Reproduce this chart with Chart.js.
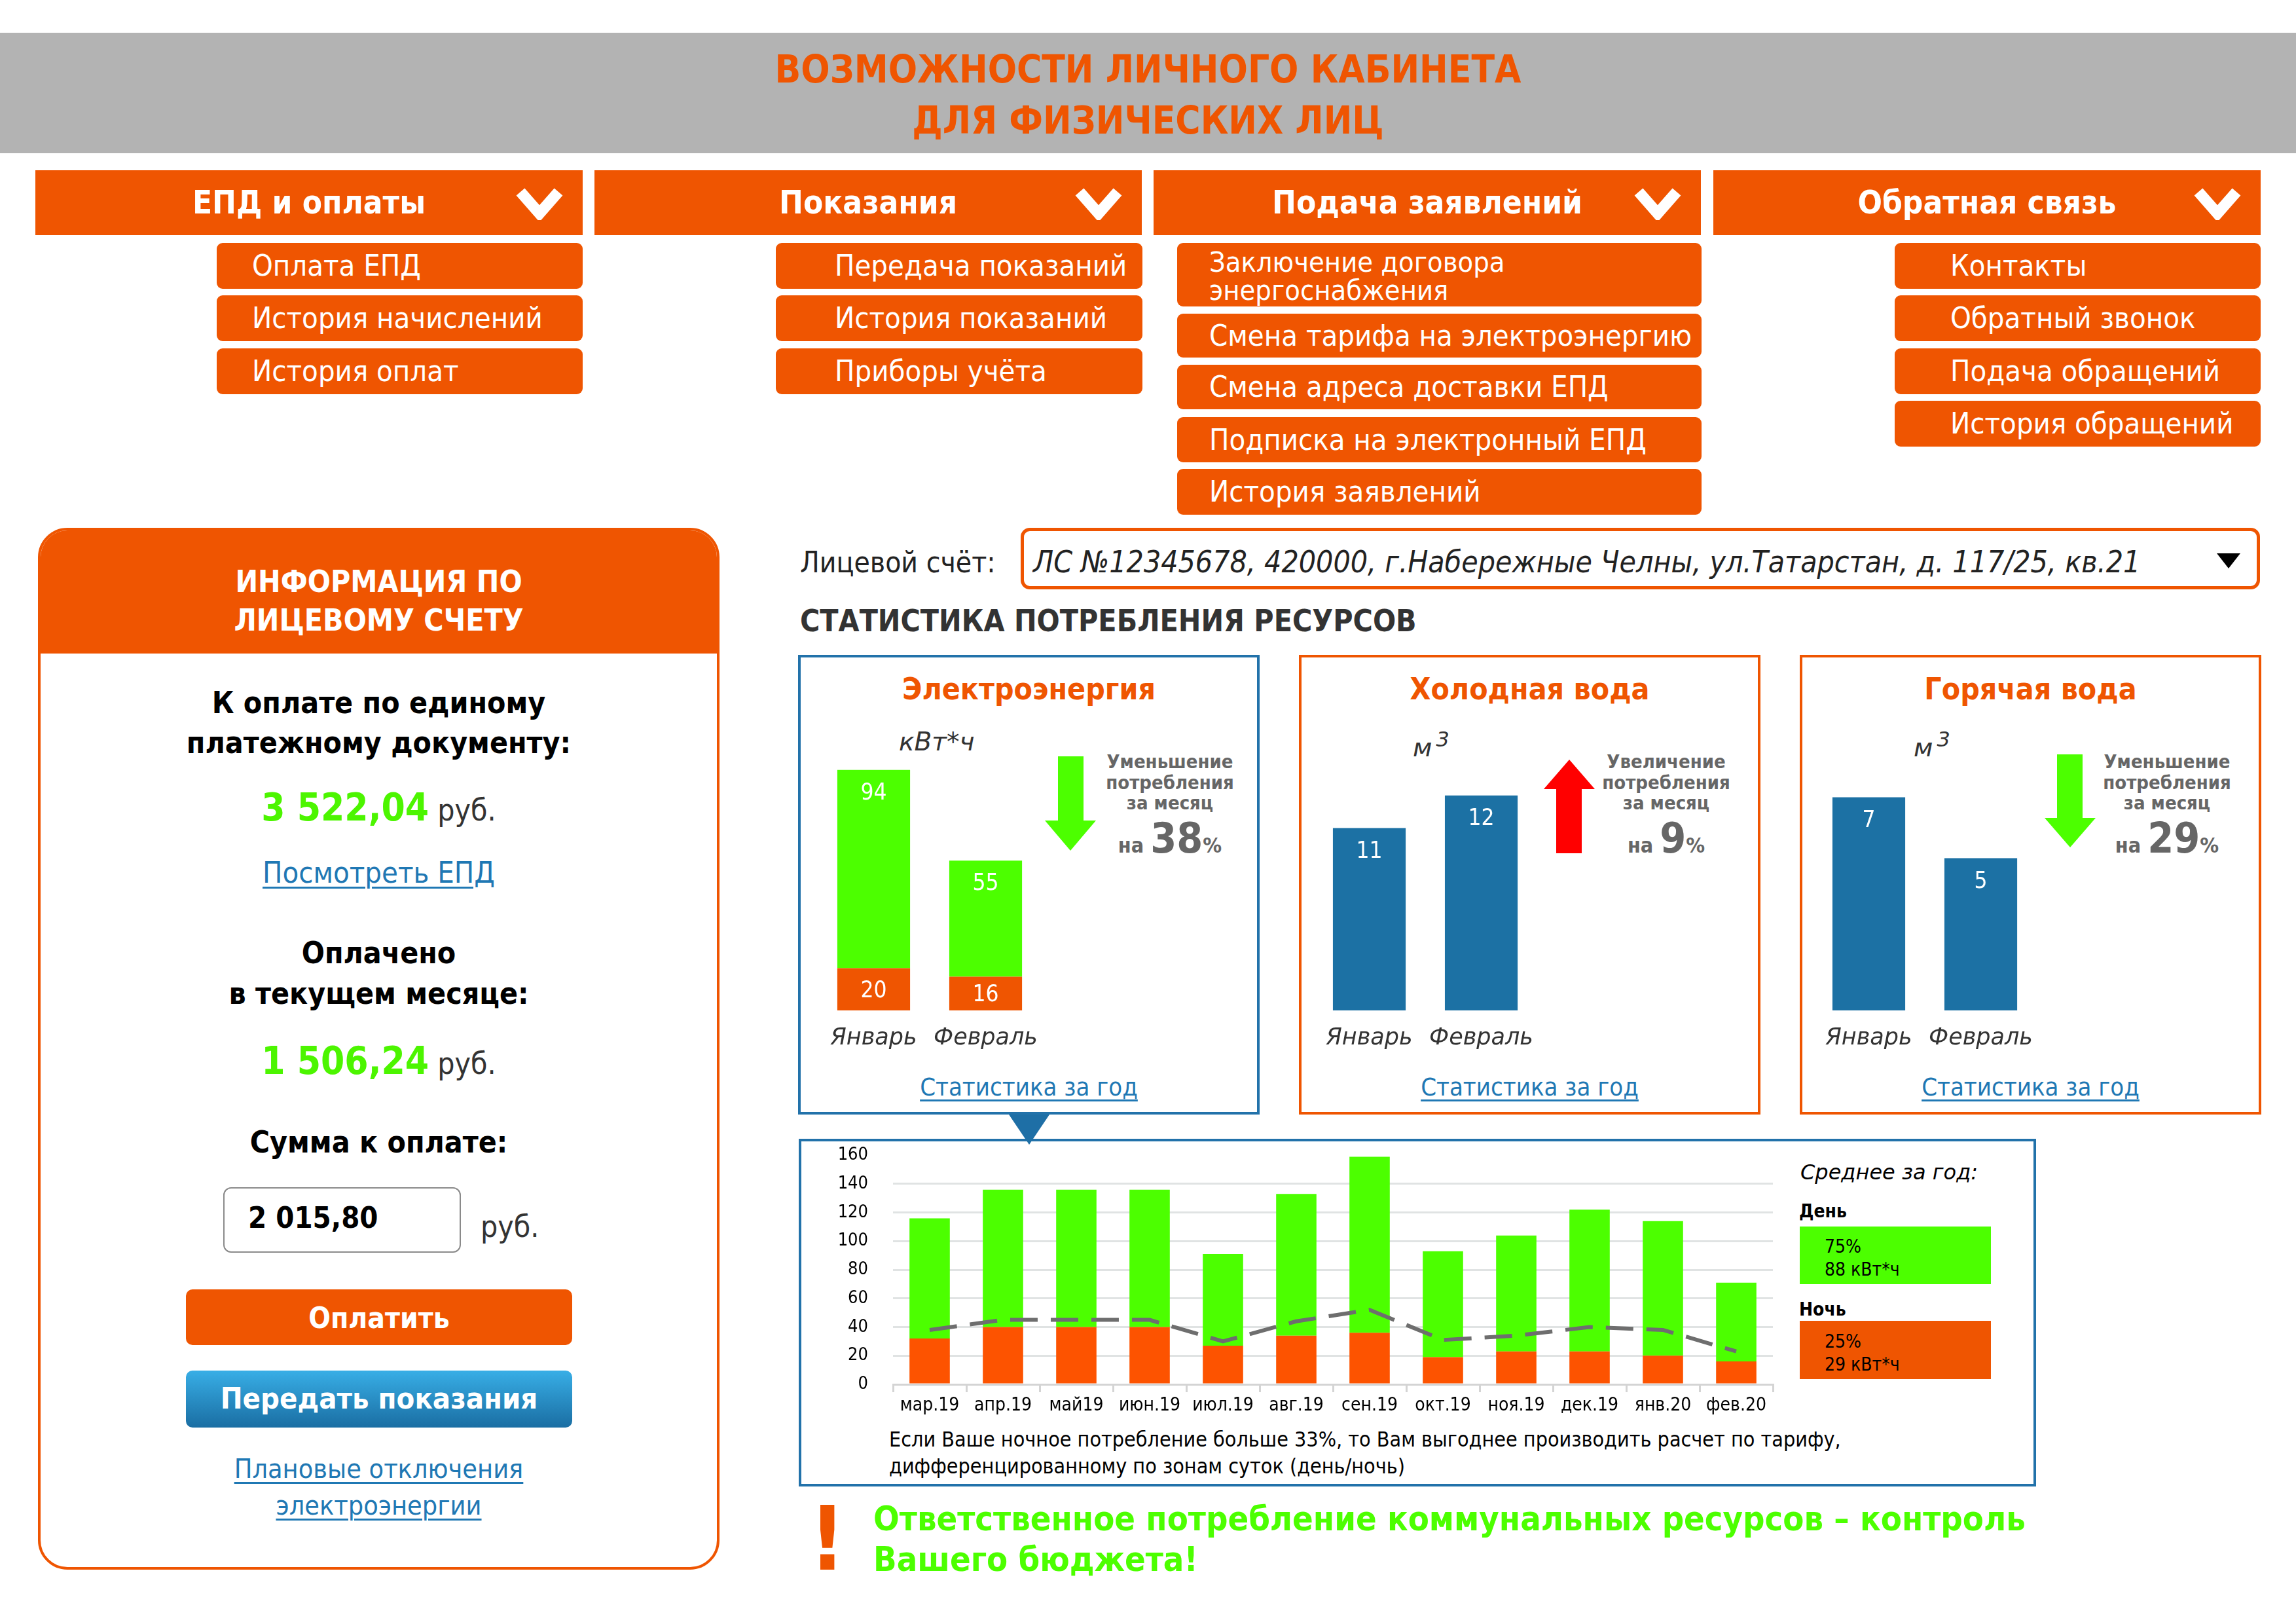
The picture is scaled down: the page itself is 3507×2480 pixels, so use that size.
<!DOCTYPE html>
<html lang="ru">
<head>
<meta charset="utf-8">
<title>Возможности личного кабинета для физических лиц</title>
<script src="https://cdn.jsdelivr.net/npm/chart.js@4.4.1/dist/chart.umd.min.js"></script>
<style>
html, body { margin: 0; padding: 0; }
body {
    width: 3507px; height: 2480px; position: relative; overflow: hidden; background: #fff;
    font-family: "DejaVu Sans Condensed", "DejaVu Sans", sans-serif; font-stretch: condensed; color: #000;
}
.t { position: absolute; white-space: nowrap; line-height: 1; }
.ctr { text-align: center; }
.b { font-weight: bold; }
.org { color: #ef5501; }
.link { color: #1f78b4; text-decoration: underline; text-decoration-thickness: 3px; text-underline-offset: 6px; }
.box { position: absolute; box-sizing: border-box; }
.hdr { position: absolute; top: 260px; height: 99px; width: 836px; background: #ef5501; color: #fff;
       font-weight: bold; font-size: 49px; line-height: 99px; text-align: center; }
.hdr svg { position: absolute; right: 29px; top: 26px; }
.sub { position: absolute; background: #ef5501; color: #fff; border-radius: 9px; font-size: 45px;
       white-space: nowrap; box-sizing: border-box; }
.card { position: absolute; top: 1000px; width: 705px; height: 702px; border: 4px solid #ef5501; box-sizing: border-box; }
.note { color: #666; font-weight: bold; font-size: 29px; line-height: 31.5px; text-align: center; }
canvas { position: absolute; }
</style>
</head>
<body>

<!-- header -->
<div class="box" style="left:0;top:50px;width:3507px;height:184px;background:#b3b3b3;"></div>
<div class="t ctr b org" style="left:0;width:3507px;top:77px;font-size:58px;">ВОЗМОЖНОСТИ ЛИЧНОГО КАБИНЕТА</div>
<div class="t ctr b org" style="left:0;width:3507px;top:155px;font-size:58px;">ДЛЯ ФИЗИЧЕСКИХ ЛИЦ</div>

<!-- menu -->
<div class="hdr" style="left:54px;">ЕПД и оплаты<svg width="74" height="50"><polyline points="8,7 37,40 66,7" fill="none" stroke="#fff" stroke-width="17"/></svg></div>
<div class="hdr" style="left:908px;">Показания<svg width="74" height="50"><polyline points="8,7 37,40 66,7" fill="none" stroke="#fff" stroke-width="17"/></svg></div>
<div class="hdr" style="left:1762px;">Подача заявлений<svg width="74" height="50"><polyline points="8,7 37,40 66,7" fill="none" stroke="#fff" stroke-width="17"/></svg></div>
<div class="hdr" style="left:2617px;">Обратная связь<svg width="74" height="50"><polyline points="8,7 37,40 66,7" fill="none" stroke="#fff" stroke-width="17"/></svg></div>

<div class="sub" style="left:331px;top:371px;width:559px;height:70px;line-height:70px;padding-left:54px;">Оплата ЕПД</div>
<div class="sub" style="left:331px;top:451px;width:559px;height:70px;line-height:70px;padding-left:54px;">История начислений</div>
<div class="sub" style="left:331px;top:532px;width:559px;height:70px;line-height:70px;padding-left:54px;">История оплат</div>

<div class="sub" style="left:1185px;top:371px;width:560px;height:70px;line-height:70px;padding-left:90px;">Передача показаний</div>
<div class="sub" style="left:1185px;top:451px;width:560px;height:70px;line-height:70px;padding-left:90px;">История показаний</div>
<div class="sub" style="left:1185px;top:532px;width:560px;height:70px;line-height:70px;padding-left:90px;">Приборы учёта</div>

<div class="sub" style="left:1798px;top:371px;width:801px;height:97px;"></div>
<div class="t" style="left:1847px;top:382px;font-size:43px;line-height:36px;color:#fff;">Заключение договора</div>
<div class="t" style="left:1847px;top:425px;font-size:43px;line-height:36px;color:#fff;">энергоснабжения</div>
<div class="sub" style="left:1798px;top:479px;width:801px;height:67px;line-height:67px;padding-left:49px;">Смена тарифа на электроэнергию</div>
<div class="sub" style="left:1798px;top:557px;width:801px;height:68px;line-height:68px;padding-left:49px;">Смена адреса доставки ЕПД</div>
<div class="sub" style="left:1798px;top:637px;width:801px;height:69px;line-height:69px;padding-left:49px;">Подписка на электронный ЕПД</div>
<div class="sub" style="left:1798px;top:716px;width:801px;height:70px;line-height:70px;padding-left:49px;">История заявлений</div>

<div class="sub" style="left:2894px;top:371px;width:559px;height:70px;line-height:70px;padding-left:85px;">Контакты</div>
<div class="sub" style="left:2894px;top:451px;width:559px;height:70px;line-height:70px;padding-left:85px;">Обратный звонок</div>
<div class="sub" style="left:2894px;top:532px;width:559px;height:70px;line-height:70px;padding-left:85px;">Подача обращений</div>
<div class="sub" style="left:2894px;top:612px;width:559px;height:70px;line-height:70px;padding-left:85px;">История обращений</div>

<!-- left panel -->
<div class="box" style="left:58px;top:806px;width:1041px;height:1591px;border:4px solid #ef5501;border-radius:45px;overflow:hidden;">
  <div class="box" style="left:0;top:0;width:1033px;height:188px;background:#ef5501;"></div>
</div>
<div class="t ctr b" style="left:58px;width:1041px;top:865px;font-size:46px;color:#fff;">ИНФОРМАЦИЯ ПО</div>
<div class="t ctr b" style="left:58px;width:1041px;top:924px;font-size:46px;color:#fff;">ЛИЦЕВОМУ СЧЕТУ</div>
<div class="t ctr b" style="left:58px;width:1041px;top:1050px;font-size:46px;">К оплате по единому</div>
<div class="t ctr b" style="left:58px;width:1041px;top:1111px;font-size:46px;">платежному документу:</div>
<div class="t ctr" style="left:58px;width:1041px;top:1204px;font-size:58px;"><span class="b" style="color:#4cf500;">3 522,04</span><span style="font-size:46px;color:#333;"> руб.</span></div>
<div class="t ctr" style="left:58px;width:1041px;top:1310px;font-size:45px;"><span class="link">Посмотреть ЕПД</span></div>
<div class="t ctr b" style="left:58px;width:1041px;top:1432px;font-size:46px;">Оплачено</div>
<div class="t ctr b" style="left:58px;width:1041px;top:1494px;font-size:46px;">в текущем месяце:</div>
<div class="t ctr" style="left:58px;width:1041px;top:1591px;font-size:58px;"><span class="b" style="color:#4cf500;">1 506,24</span><span style="font-size:46px;color:#333;"> руб.</span></div>
<div class="t ctr b" style="left:58px;width:1041px;top:1721px;font-size:46px;">Сумма к оплате:</div>
<div class="box" style="left:341px;top:1813px;width:363px;height:100px;border:2px solid #8a8a8a;border-radius:12px;"></div>
<div class="t b" style="left:379px;top:1837px;font-size:45px;">2 015,80</div>
<div class="t" style="left:734px;top:1850px;font-size:46px;color:#333;">руб.</div>
<div class="box ctr b" style="left:284px;top:1969px;width:590px;height:85px;border-radius:10px;background:#ef5501;color:#fff;font-size:44px;line-height:88px;">Оплатить</div>
<div class="box ctr b" style="left:284px;top:2093px;width:590px;height:87px;border-radius:10px;background:linear-gradient(#38aee6,#1a6ea3);color:#fff;font-size:45px;line-height:86px;">Передать показания</div>
<div class="t ctr" style="left:58px;width:1041px;top:2223px;font-size:41px;"><span class="link">Плановые отключения</span></div>
<div class="t ctr" style="left:58px;width:1041px;top:2279px;font-size:41px;"><span class="link">электроэнергии</span></div>

<!-- account -->
<div class="t" style="left:1222px;top:837px;font-size:44px;color:#222;">Лицевой счёт:</div>
<div class="box" style="left:1559px;top:806px;width:1893px;height:94px;border:5px solid #ef5501;border-radius:14px;"></div>
<div class="t" style="left:1578px;top:835px;font-size:46px;font-style:italic;color:#222;">ЛС №12345678, 420000, г.Набережные Челны, ул.Татарстан, д. 117/25, кв.21</div>
<div class="box" style="left:3386px;top:845px;width:0;height:0;border-left:18px solid transparent;border-right:18px solid transparent;border-top:23px solid #000;"></div>
<div class="t b" style="left:1222px;top:925px;font-size:46px;color:#333;">СТАТИСТИКА ПОТРЕБЛЕНИЯ РЕСУРСОВ</div>

<!-- cards -->
<div class="card" style="left:1219px;border-color:#2272aa;"></div>
<div class="card" style="left:1984px;"></div>
<div class="card" style="left:2749px;"></div>

<div class="t ctr b org" style="left:1219px;width:705px;top:1029px;font-size:46px;">Электроэнергия</div>
<div class="t ctr b org" style="left:1984px;width:705px;top:1029px;font-size:46px;">Холодная вода</div>
<div class="t ctr b org" style="left:2749px;width:705px;top:1029px;font-size:46px;">Горячая вода</div>

<div class="t" style="left:1373px;top:1113px;font-size:39px;font-style:italic;color:#333;font-family:'DejaVu Sans';font-stretch:normal;">кВт*ч</div>
<div class="t" style="left:2158px;top:1113px;font-size:39px;font-style:italic;color:#333;font-family:'DejaVu Sans';font-stretch:normal;">м<span style="font-size:32px;vertical-align:15px;margin-left:6px;">3</span></div>
<div class="t" style="left:2923px;top:1113px;font-size:39px;font-style:italic;color:#333;font-family:'DejaVu Sans';font-stretch:normal;">м<span style="font-size:32px;vertical-align:15px;margin-left:6px;">3</span></div>

<svg class="box" style="left:1596px;top:1155px;" width="78" height="144"><polygon points="20,0 59,0 59,98 78,98 39,144 0,98 20,98" fill="#4cff00"/></svg>
<svg class="box" style="left:2358px;top:1160px;" width="78" height="143"><polygon points="39,0 78,45 58,45 58,143 19,143 19,45 0,45" fill="#ff0000"/></svg>
<svg class="box" style="left:3123px;top:1152px;" width="78" height="142"><polygon points="19,0 58,0 58,97 78,97 39,142 0,97 19,97" fill="#4cff00"/></svg>

<div class="t note" style="left:1637px;width:300px;top:1148px;">Уменьшение<br>потребления<br>за месяц</div>
<div class="t note" style="left:2395px;width:300px;top:1148px;">Увеличение<br>потребления<br>за месяц</div>
<div class="t note" style="left:3160px;width:300px;top:1148px;">Уменьшение<br>потребления<br>за месяц</div>
<div class="t ctr b" style="left:1637px;width:300px;top:1248px;font-size:64px;color:#666;"><span style="font-size:32px;">на </span>38<span style="font-size:32px;">%</span></div>
<div class="t ctr b" style="left:2395px;width:300px;top:1248px;font-size:64px;color:#666;"><span style="font-size:32px;">на </span>9<span style="font-size:32px;">%</span></div>
<div class="t ctr b" style="left:3160px;width:300px;top:1248px;font-size:64px;color:#666;"><span style="font-size:32px;">на </span>29<span style="font-size:32px;">%</span></div>

<canvas id="elecChart" width="358" height="456" style="left:1249px;top:1150px;"></canvas>
<canvas id="coldChart" width="358" height="456" style="left:2006px;top:1150px;"></canvas>
<canvas id="hotChart" width="358" height="456" style="left:2769px;top:1150px;"></canvas>

<div class="t ctr" style="left:1219px;width:705px;top:1641px;font-size:38px;"><span class="link">Статистика за год</span></div>
<div class="t ctr" style="left:1984px;width:705px;top:1641px;font-size:38px;"><span class="link">Статистика за год</span></div>
<div class="t ctr" style="left:2749px;width:705px;top:1641px;font-size:38px;"><span class="link">Статистика за год</span></div>

<!-- year chart -->
<div class="box" style="left:1220px;top:1739px;width:1890px;height:531px;border:4px solid #2272aa;"></div>
<div class="box" style="left:1541px;top:1702px;width:0;height:0;border-left:31px solid transparent;border-right:31px solid transparent;border-top:46px solid #1e6fa6;"></div>
<canvas id="yearChart" width="1470" height="427" style="left:1250px;top:1744px;"></canvas>

<div class="t" style="left:2750px;top:1774px;font-size:32px;font-style:italic;font-family:'DejaVu Sans';font-stretch:normal;">Среднее за год:</div>
<div class="t b" style="left:2748px;top:1836px;font-size:28px;">День</div>
<div class="box" style="left:2749px;top:1873px;width:292px;height:88px;background:#4cff00;"></div>
<div class="t" style="left:2787px;top:1886px;font-size:28px;line-height:35px;">75%<br>88 кВт*ч</div>
<div class="t b" style="left:2748px;top:1986px;font-size:28px;">Ночь</div>
<div class="box" style="left:2749px;top:2017px;width:292px;height:89px;background:#ef5501;"></div>
<div class="t" style="left:2787px;top:2031px;font-size:28px;line-height:35px;">25%<br>29 кВт*ч</div>

<div class="t" style="left:1358px;top:2178px;font-size:32px;line-height:41px;">Если Ваше ночное потребление больше 33%, то Вам выгоднее производить расчет по тарифу,<br>дифференцированному по зонам суток (день/ночь)</div>

<!-- bottom message -->
<div class="t b org" style="left:1236px;top:2283px;font-size:135px;">!</div>
<div class="t b" style="left:1334px;top:2288px;font-size:52px;line-height:62px;color:#4cff00;">Ответственное потребление коммунальных ресурсов – контроль<br>Вашего бюджета!</div>

<script>
// годовая статистика электроэнергии, кВт*ч
const months = ["мар.19", "апр.19", "май19", "июн.19", "июл.19", "авг.19", "сен.19", "окт.19", "ноя.19", "дек.19", "янв.20", "фев.20"];
const nightKwh = [32, 40, 40, 40, 27, 34, 36, 19, 23, 23, 20, 16];
const dayKwh = [84, 96, 96, 96, 64, 99, 123, 74, 81, 99, 94, 55];
const nightLimit = [38, 45, 45, 45, 30, 44, 52, 31, 34, 40, 38, 23];
const yearTicks = [0, 20, 40, 60, 80, 100, 120, 140, 160];

// последние два месяца
const twoMonths = ["Январь", "Февраль"];
const elecNight = [20, 16];
const elecDay = [94, 55];
const coldWater = [11, 12];
const hotWater = [7, 5];

const GREEN = "#4cff00";
const ORANGE = "#ef5501";
const BLUE = "#1c71a4";
const FAMILY = '"DejaVu Sans Condensed", "DejaVu Sans", sans-serif';

// подписи значений внутри столбиков
const barText = {
    id: "barText",
    afterDatasetsDraw(chart, args, opts) {
        const ctx = chart.ctx;
        ctx.save();
        ctx.fillStyle = "#fff";
        ctx.font = "35px " + FAMILY;
        ctx.textAlign = "center";
        ctx.textBaseline = "middle";
        chart.data.datasets.forEach((ds, i) => {
            chart.getDatasetMeta(i).data.forEach((bar, j) => {
                const y = ds.labelAt === "center" ? (bar.y + bar.base) / 2 + 3 : bar.y + opts.offset;
                ctx.fillText(String(ds.data[j]), bar.x, y);
            });
        });
        ctx.restore();
    }
};

function smallChart(id, datasets, yMin, yMax) {
    return new Chart(document.getElementById(id), {
        type: "bar",
        data: { labels: twoMonths, datasets: datasets },
        options: {
            responsive: false,
            animation: false,
            devicePixelRatio: 1,
            barPercentage: 0.65,
            categoryPercentage: 1,
            layout: { padding: 0 },
            plugins: { legend: { display: false }, tooltip: { enabled: false }, barText: { offset: 36 } },
            scales: {
                x: {
                    stacked: true,
                    grid: { display: false, drawTicks: false },
                    border: { display: false },
                    ticks: { padding: 22, color: "#333", font: { family: '"DejaVu Sans", sans-serif', style: "italic", size: 35 } },
                    afterFit: s => { s.height = 63; }
                },
                y: { stacked: true, display: false, min: yMin, max: yMax }
            }
        },
        plugins: [barText]
    });
}

smallChart("elecChart", [
    { data: elecNight, backgroundColor: ORANGE, labelAt: "center" },
    { data: elecDay, backgroundColor: GREEN }
], 0, 122);
smallChart("coldChart", [{ data: coldWater, backgroundColor: BLUE }], 5.4, 13.3);
smallChart("hotChart", [{ data: hotWater, backgroundColor: BLUE }], 0, 8.45);

new Chart(document.getElementById("yearChart"), {
    type: "bar",
    data: {
        labels: months,
        datasets: [
            { type: "line", data: nightLimit, borderColor: "#6e6e6e", borderWidth: 6, borderDash: [42, 20],
              pointRadius: 0, tension: 0, fill: false, order: 0 },
            { type: "bar", data: nightKwh, backgroundColor: "#fd5300", stack: "kwh", order: 1 },
            { type: "bar", data: dayKwh, backgroundColor: GREEN, stack: "kwh", order: 1 }
        ]
    },
    options: {
        responsive: false,
        animation: false,
        devicePixelRatio: 1,
        barPercentage: 0.55,
        categoryPercentage: 1,
        layout: { padding: { top: 20, right: 12, left: 0, bottom: 0 } },
        plugins: { legend: { display: false }, tooltip: { enabled: false } },
        scales: {
            x: {
                stacked: true,
                offset: true,
                grid: { offset: true, drawOnChartArea: false, drawTicks: true, tickLength: 12, color: "#d4d4d4", lineWidth: 3 },
                border: { display: true, color: "#d4d4d4", width: 3 },
                ticks: { padding: 4, color: "#000", font: { family: FAMILY, size: 28 } },
                afterFit: s => { s.height = 57; }
            },
            y: {
                stacked: true,
                min: 0,
                max: 160,
                grid: { drawTicks: true, tickLength: 34, tickColor: "rgba(0,0,0,0)", lineWidth: 3,
                        color: c => (c.tick && c.tick.value === 160 ? "rgba(0,0,0,0)" : "#e0e3e3") },
                border: { display: false },
                ticks: { padding: 4, color: "#000", font: { family: FAMILY, size: 27 } },
                afterBuildTicks: s => { s.ticks = yearTicks.map(v => ({ value: v })); },
                afterFit: s => { s.width = 114; }
            }
        }
    }
});
</script>
</body>
</html>
